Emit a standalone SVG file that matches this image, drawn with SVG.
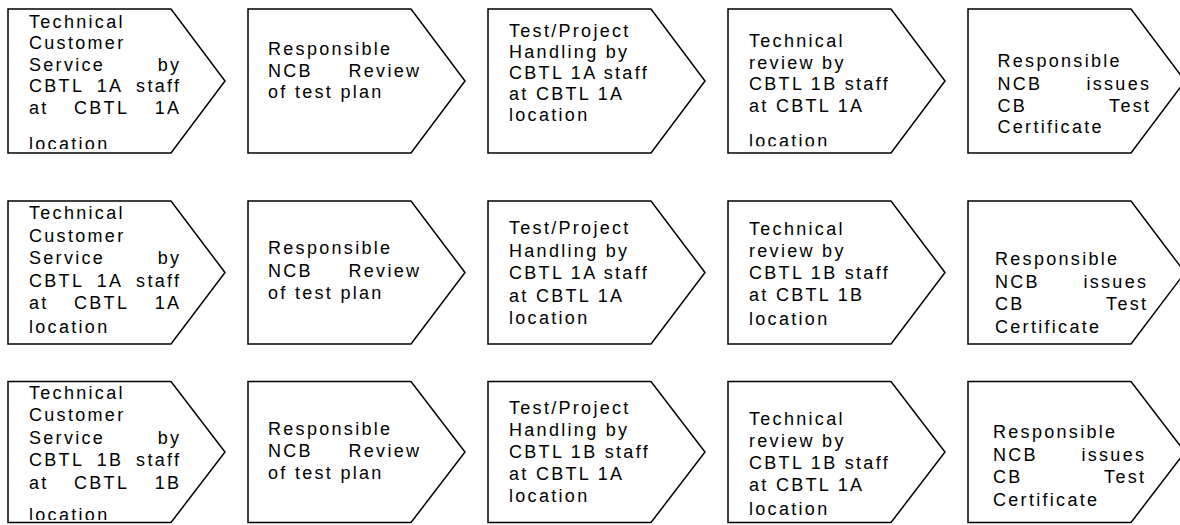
<svg xmlns="http://www.w3.org/2000/svg" width="1180" height="525" viewBox="0 0 1180 525">
<style>
.box{fill:#fff;stroke:#000;stroke-width:1.5}
.t{font-family:"Liberation Sans",Arial,sans-serif;font-size:18px;letter-spacing:2.3px;fill:#000}
.e{text-anchor:end}
.m{text-anchor:middle}
</style>
<defs>
<clipPath id="c1"><rect x="0" y="0" width="240" height="149"/></clipPath>
<clipPath id="c4"><rect x="720" y="0" width="240" height="146.3"/></clipPath>
<clipPath id="c11"><rect x="0" y="380" width="240" height="140"/></clipPath>
</defs>
<rect width="1180" height="525" fill="#fff"/>
<g id="connectors"/>
<!-- Row 1 -->
<g id="r1n1">
<polygon class="box" points="8,9 171,9 225,81 171,153 8,153"/>
<g clip-path="url(#c1)">
<text class="t" x="29" y="27.5">Technical</text>
<text class="t" x="29" y="49">Customer</text>
<text class="t" x="29" y="70.5">Service</text><text class="t e" x="181.3" y="70.5">by</text>
<text class="t" x="29" y="92">CBTL</text><text class="t m" x="110" y="92">1A</text><text class="t e" x="181.3" y="92">staff</text>
<text class="t" x="29" y="113.5">at</text><text class="t m" x="101.6" y="113.5">CBTL</text><text class="t e" x="181.3" y="113.5">1A</text>
<text class="t" x="29" y="150">location</text>
</g>
</g>
<g id="r1n2">
<polygon class="box" points="248,9 411,9 465,81 411,153 248,153"/>
<text class="t" x="268" y="55">Responsible</text>
<text class="t" x="268" y="76.5">NCB</text><text class="t e" x="421.3" y="76.5">Review</text>
<text class="t" x="268" y="98">of test plan</text>
</g>
<g id="r1n3">
<polygon class="box" points="488,9 651,9 705,81 651,153 488,153"/>
<text class="t" x="509" y="36.5">Test/Project</text>
<text class="t" x="509" y="57.5">Handling by</text>
<text class="t" x="509" y="78.5">CBTL 1A staff</text>
<text class="t" x="509" y="100">at CBTL 1A</text>
<text class="t" x="509" y="121">location</text>
</g>
<g id="r1n4">
<polygon class="box" points="728,9 891,9 945,81 891,153 728,153"/>
<g clip-path="url(#c4)">
<text class="t" x="749" y="47">Technical</text>
<text class="t" x="749" y="68.5">review by</text>
<text class="t" x="749" y="90">CBTL 1B staff</text>
<text class="t" x="749" y="111.5">at CBTL 1A</text>
<text class="t" x="749" y="147.3">location</text>
</g>
</g>
<g id="r1n5">
<polygon class="box" points="968,9 1131,9 1185,81 1131,153 968,153"/>
<text class="t" x="997.5" y="67">Responsible</text>
<text class="t" x="997.5" y="89.5">NCB</text><text class="t e" x="1151.3" y="89.5">issues</text>
<text class="t" x="997.5" y="111.5">CB</text><text class="t e" x="1151.3" y="111.5">Test</text>
<text class="t" x="997.5" y="133.3">Certificate</text>
</g>
<!-- Row 2 -->
<g id="r2n1">
<polygon class="box" points="8,201 171,201 225,272.5 171,344 8,344"/>
<text class="t" x="29" y="219">Technical</text>
<text class="t" x="29" y="241.5">Customer</text>
<text class="t" x="29" y="264">Service</text><text class="t e" x="181.3" y="264">by</text>
<text class="t" x="29" y="286.5">CBTL</text><text class="t m" x="110" y="286.5">1A</text><text class="t e" x="181.3" y="286.5">staff</text>
<text class="t" x="29" y="309">at</text><text class="t m" x="101.6" y="309">CBTL</text><text class="t e" x="181.3" y="309">1A</text>
<text class="t" x="29" y="332.5">location</text>
</g>
<g id="r2n2">
<polygon class="box" points="248,201 411,201 465,272.5 411,344 248,344"/>
<text class="t" x="268" y="254">Responsible</text>
<text class="t" x="268" y="276.5">NCB</text><text class="t e" x="421.3" y="276.5">Review</text>
<text class="t" x="268" y="299">of test plan</text>
</g>
<g id="r2n3">
<polygon class="box" points="488,201 651,201 705,272.5 651,344 488,344"/>
<text class="t" x="509" y="234">Test/Project</text>
<text class="t" x="509" y="256.5">Handling by</text>
<text class="t" x="509" y="279">CBTL 1A staff</text>
<text class="t" x="509" y="301.5">at CBTL 1A</text>
<text class="t" x="509" y="324">location</text>
</g>
<g id="r2n4">
<polygon class="box" points="728,201 891,201 945,272.5 891,344 728,344"/>
<text class="t" x="749" y="235">Technical</text>
<text class="t" x="749" y="257">review by</text>
<text class="t" x="749" y="279">CBTL 1B staff</text>
<text class="t" x="749" y="301">at CBTL 1B</text>
<text class="t" x="749" y="325">location</text>
</g>
<g id="r2n5">
<polygon class="box" points="968,201 1131,201 1185,272.5 1131,344 968,344"/>
<text class="t" x="995" y="265">Responsible</text>
<text class="t" x="995" y="287.5">NCB</text><text class="t e" x="1148.3" y="287.5">issues</text>
<text class="t" x="995" y="310">CB</text><text class="t e" x="1148.3" y="310">Test</text>
<text class="t" x="995" y="332.5">Certificate</text>
</g>
<!-- Row 3 -->
<g id="r3n1">
<polygon class="box" points="8,381.5 171,381.5 225,452 171,522.5 8,522.5"/>
<g clip-path="url(#c11)">
<text class="t" x="29" y="398.5">Technical</text>
<text class="t" x="29" y="421">Customer</text>
<text class="t" x="29" y="443.5">Service</text><text class="t e" x="181.3" y="443.5">by</text>
<text class="t" x="29" y="466">CBTL</text><text class="t m" x="110" y="466">1B</text><text class="t e" x="181.3" y="466">staff</text>
<text class="t" x="29" y="488.5">at</text><text class="t m" x="101.6" y="488.5">CBTL</text><text class="t e" x="181.3" y="488.5">1B</text>
<text class="t" x="29" y="520.5">location</text>
</g>
</g>
<g id="r3n2">
<polygon class="box" points="248,381.5 411,381.5 465,452 411,522.5 248,522.5"/>
<text class="t" x="268" y="435">Responsible</text>
<text class="t" x="268" y="457">NCB</text><text class="t e" x="421.3" y="457">Review</text>
<text class="t" x="268" y="479">of test plan</text>
</g>
<g id="r3n3">
<polygon class="box" points="488,381.5 651,381.5 705,452 651,522.5 488,522.5"/>
<text class="t" x="509" y="414">Test/Project</text>
<text class="t" x="509" y="436">Handling by</text>
<text class="t" x="509" y="458">CBTL 1B staff</text>
<text class="t" x="509" y="480">at CBTL 1A</text>
<text class="t" x="509" y="502">location</text>
</g>
<g id="r3n4">
<polygon class="box" points="728,381.5 891,381.5 945,452 891,522.5 728,522.5"/>
<text class="t" x="749" y="425">Technical</text>
<text class="t" x="749" y="447">review by</text>
<text class="t" x="749" y="469">CBTL 1B staff</text>
<text class="t" x="749" y="491">at CBTL 1A</text>
<text class="t" x="749" y="515">location</text>
</g>
<g id="r3n5">
<polygon class="box" points="968,381.5 1131,381.5 1185,452 1131,522.5 968,522.5"/>
<text class="t" x="993" y="438">Responsible</text>
<text class="t" x="993" y="460.5">NCB</text><text class="t e" x="1146.3" y="460.5">issues</text>
<text class="t" x="993" y="483">CB</text><text class="t e" x="1146.3" y="483">Test</text>
<text class="t" x="993" y="505.5">Certificate</text>
</g>
</svg>
